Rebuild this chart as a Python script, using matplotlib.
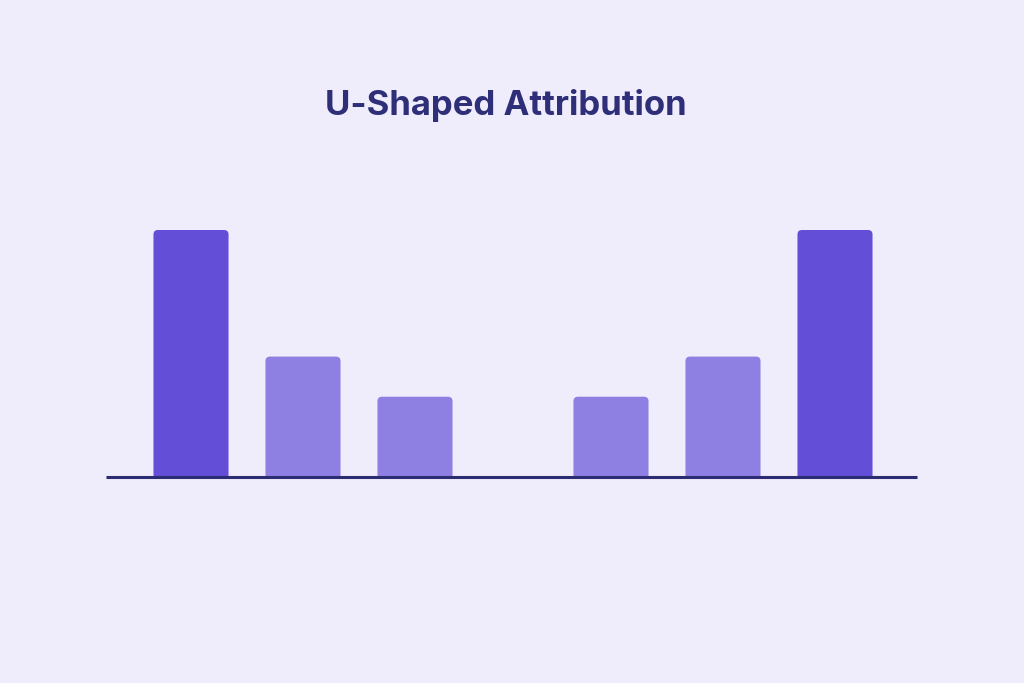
import matplotlib
matplotlib.use("Agg")
import matplotlib.pyplot as plt
from matplotlib.patches import FancyBboxPatch, Rectangle

# Touchpoint credit in a U-shaped attribution model
touchpoints = ["First touch", "Touch 2", "Touch 3", "Touch 4", "Touch 5", "Last touch"]
positions = [0, 1, 2, 3.75, 4.75, 5.75]
credit = [40, 19.5, 13, 13, 19.5, 40]
emphasis = [True, False, False, False, False, True]

BG = "#EFECFB"
STRONG = "#634ED8"
SOFT = "#8E7FE2"
INK = "#2C2C72"

fig = plt.figure(figsize=(10.24, 6.83), dpi=100, facecolor=BG)
ax = fig.add_axes([0, 0, 1, 1], facecolor=BG)

# pixel-based scales: 112 px per slot horizontally, 6.175 px per unit vertically
px_x = 112.0
px_y = 6.175
x0, x1 = -191 / px_x, (1024 - 191) / px_x
y0, y1 = -(683 - 477) / px_y, 477 / px_y
ax.set_xlim(x0, x1)
ax.set_ylim(y0, y1)
ax.axis("off")

# everything above the baseline; rounded bottoms are clipped away
above = Rectangle((x0, 0), x1 - x0, y1, transform=ax.transData,
                  facecolor="none", edgecolor="none")

width = 0.67
radius_px = 4.5
aspect = px_x / px_y
for x, h, strong in zip(positions, credit, emphasis):
    color = STRONG if strong else SOFT
    left = x - width / 2
    pad_y = 8 / px_y
    bar = FancyBboxPatch((left, -pad_y), width, h + pad_y,
                         boxstyle=f"round,pad=0,rounding_size={radius_px / px_x}",
                         mutation_aspect=aspect,
                         facecolor=color, edgecolor="none", zorder=2)
    ax.add_patch(bar)
    bar.set_clip_path(above)

ax.plot([(106 - 191) / px_x, (917 - 191) / px_x], [0, 0],
        color=INK, linewidth=2.2, solid_capstyle="butt", zorder=3)

fig.text(506 / 1024, 1 - 105 / 683, "U-Shaped Attribution",
         ha="center", va="center", fontsize=25, fontweight="bold",
         family="Inter", color="#2E2F78")

fig.savefig("out.png", dpi=100, facecolor=BG)
